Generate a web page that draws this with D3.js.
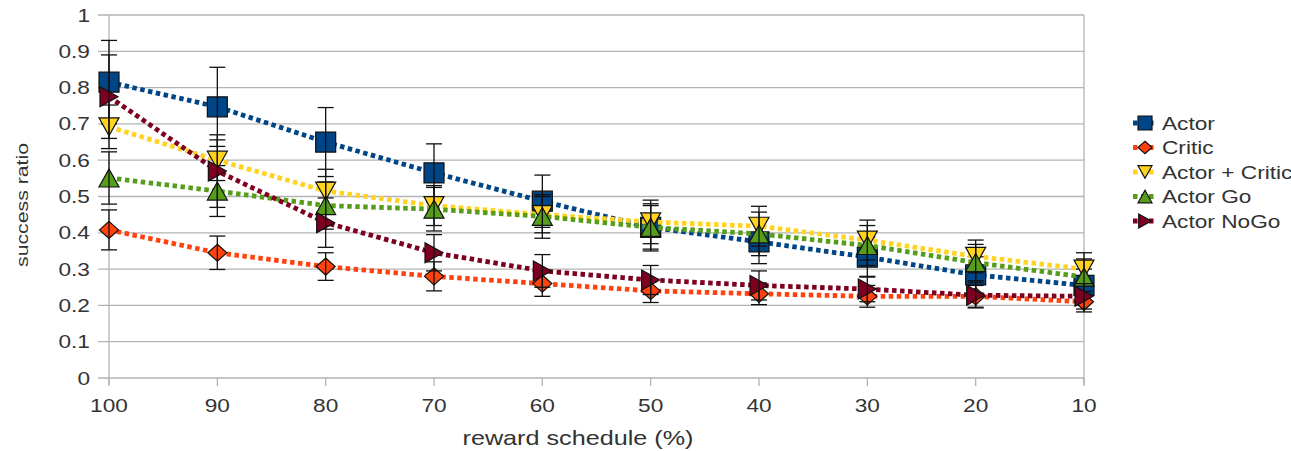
<!DOCTYPE html>
<html>
<head>
<meta charset="utf-8">
<script src="https://cdn.jsdelivr.net/npm/d3@7"></script>
<style>
  body { margin: 0; background: #fff; }
  text { font-family: "Liberation Sans", Arial, sans-serif; fill: #333; }
</style>
</head>
<body>
<svg id="chart"></svg>
<script>
'use strict';

// reward schedule categories (x axis, left to right)
var schedule = [100, 90, 80, 70, 60, 50, 40, 30, 20, 10];
var yTicks = [0, 0.1, 0.2, 0.3, 0.4, 0.5, 0.6, 0.7, 0.8, 0.9, 1];

var seriesNames = ['Actor', 'Critic', 'Actor + Critic', 'Actor Go', 'Actor NoGo'];

var actor      = [0.815, 0.747, 0.650, 0.565, 0.487, 0.415, 0.375, 0.333, 0.284, 0.255];
var actorErr   = [0.115, 0.109, 0.095, 0.080, 0.072, 0.065, 0.060, 0.055, 0.050, 0.045];
var critic     = [0.408, 0.345, 0.307, 0.280, 0.260, 0.240, 0.232, 0.225, 0.225, 0.210];
var criticErr  = [0.055, 0.046, 0.038, 0.040, 0.035, 0.032, 0.030, 0.030, 0.030, 0.028];
var actCrit    = [0.692, 0.600, 0.515, 0.475, 0.450, 0.430, 0.418, 0.380, 0.335, 0.300];
var actCritErr = [0.060, 0.056, 0.060, 0.055, 0.050, 0.060, 0.055, 0.055, 0.045, 0.045];
var actorGo    = [0.551, 0.515, 0.475, 0.465, 0.445, 0.415, 0.397, 0.365, 0.318, 0.278];
var actorGoErr = [0.072, 0.070, 0.065, 0.060, 0.060, 0.060, 0.060, 0.055, 0.050, 0.050];
var actorNoGo  = [0.775, 0.570, 0.428, 0.345, 0.295, 0.270, 0.255, 0.245, 0.228, 0.225];
var noGoErr    = [0.115, 0.100, 0.068, 0.050, 0.045, 0.040, 0.040, 0.035, 0.035, 0.035];

var seriesValues = [actor, critic, actCrit, actorGo, actorNoGo];
var seriesErrors = [actorErr, criticErr, actCritErr, actorGoErr, noGoErr];

var colors = ['#004586', '#ff420e', '#ffd320', '#579d1c', '#7e0021'];
var shapes = ['square', 'diamond', 'down', 'up', 'right'];

var width = 1291, height = 451,
    margin = {top: 15, left: 109, right: 207, bottom: 73},
    sx = 1.26; // text in the picture is stretched sideways

var svg = d3.select('#chart').attr('width', width).attr('height', height);

var xScale = d3.scalePoint()
  .domain(schedule)
  .range([margin.left, width - margin.right]);
var yScale = d3.scaleLinear()
  .domain([0, 1])
  .range([height - margin.bottom, margin.top]);

function markerPath(type, s) {
  var h = s / 2;
  if (type === 'square') return 'M' + -h + ',' + -h + 'H' + h + 'V' + h + 'H' + -h + 'Z';
  if (type === 'diamond') return 'M0,' + -h * 0.9 + 'L' + h + ',0L0,' + h * 0.9 + 'L' + -h + ',0Z';
  if (type === 'down') return 'M' + -h + ',' + -h * 0.9 + 'H' + h + 'L0,' + h * 0.9 + 'Z';
  if (type === 'up') return 'M' + -h + ',' + h * 0.9 + 'H' + h + 'L0,' + -h * 0.9 + 'Z';
  return 'M' + -h * 0.9 + ',' + -h + 'L' + h * 0.9 + ',0L' + -h * 0.9 + ',' + h + 'Z';
}

function stretchedText(g, x, y, str, size, anchor) {
  return g.append('text')
    .attr('transform', 'translate(' + x + ',' + y + ') scale(' + sx + ',1)')
    .attr('font-size', size)
    .attr('text-anchor', anchor)
    .text(str);
}

var grid = '#b3b3b3';
var x0 = xScale.range()[0], x1 = xScale.range()[1];

// gridlines + y axis
var yAxis = svg.append('g').attr('class', 'y axis');
yTicks.forEach(function (t) {
  yAxis.append('line')
    .attr('x1', x0 - 11).attr('x2', x1)
    .attr('y1', yScale(t)).attr('y2', yScale(t))
    .attr('stroke', grid).attr('stroke-width', 1.3);
  stretchedText(yAxis, x0 - 19, yScale(t) + 6.5, d3.format('')(t), 18, 'end');
});
yAxis.append('line')
  .attr('x1', x0).attr('x2', x0)
  .attr('y1', yScale(1)).attr('y2', yScale(0) + 7)
  .attr('stroke', grid).attr('stroke-width', 1.3);
yAxis.append('line')
  .attr('x1', x1).attr('x2', x1)
  .attr('y1', yScale(1)).attr('y2', yScale(0) + 7)
  .attr('stroke', grid).attr('stroke-width', 1.3);

// x axis
var xAxis = svg.append('g').attr('class', 'x axis');
schedule.forEach(function (c) {
  xAxis.append('line')
    .attr('x1', xScale(c)).attr('x2', xScale(c))
    .attr('y1', yScale(0)).attr('y2', yScale(0) + 8)
    .attr('stroke', grid).attr('stroke-width', 1.3);
  stretchedText(xAxis, xScale(c), 412, c, 18, 'middle');
});

stretchedText(svg, 578, 445, 'reward schedule (%)', 20, 'middle');
svg.append('text')
  .attr('transform', 'translate(28,' + 205 + ') rotate(-90) scale(1.25,1)')
  .attr('font-size', 17)
  .attr('text-anchor', 'middle')
  .text('success ratio');

// series
var line = d3.line()
  .x(function (d) { return xScale(d[0]); })
  .y(function (d) { return yScale(d[1]); });

seriesNames.forEach(function (name, k) {
  var pts = schedule.map(function (c, i) {
    return [c, seriesValues[k][i], seriesErrors[k][i]];
  });
  var g = svg.append('g').attr('class', 'series');

  g.append('path')
    .datum(pts)
    .attr('d', line)
    .attr('fill', 'none')
    .attr('stroke', colors[k])
    .attr('stroke-width', 4.8)
    .attr('stroke-dasharray', '4.5,3.5');

  g.selectAll('path.marker').data(pts).enter()
    .append('path')
    .classed('marker', true)
    .attr('transform', function (d) {
      return 'translate(' + xScale(d[0]) + ',' + yScale(d[1]) + ')';
    })
    .attr('d', markerPath(shapes[k], k === 1 ? 19 : 20))
    .attr('fill', colors[k])
    .attr('stroke', '#111')
    .attr('stroke-width', 1.2);

  g.selectAll('g.err').data(pts).enter()
    .append('g')
    .classed('err', true)
    .each(function (d) {
      var e = d3.select(this), x = xScale(d[0]);
      var lo = yScale(d[1] - d[2]), hi = yScale(d[1] + d[2]);
      e.append('line')
        .attr('x1', x).attr('x2', x).attr('y1', lo).attr('y2', hi);
      [lo, hi].forEach(function (v) {
        e.append('line')
          .attr('x1', x - 8).attr('x2', x + 8).attr('y1', v).attr('y2', v);
      });
      e.selectAll('line').attr('stroke', '#111').attr('stroke-width', 1.3);
    });
});

// legend
var legend = svg.append('g').attr('class', 'legend');
seriesNames.forEach(function (name, k) {
  var y = 123 + k * 24.5;
  legend.append('line')
    .attr('x1', 1133).attr('x2', 1157).attr('y1', y).attr('y2', y)
    .attr('stroke', colors[k]).attr('stroke-width', 4.8)
    .attr('stroke-dasharray', '4.5,3.5');
  legend.append('path')
    .attr('transform', 'translate(1145,' + y + ')')
    .attr('d', markerPath(shapes[k], 14))
    .attr('fill', colors[k])
    .attr('stroke', '#111')
    .attr('stroke-width', 1.2);
  stretchedText(legend, 1162, y + 6.5, name, 18, 'start');
});
</script>
</body>
</html>
